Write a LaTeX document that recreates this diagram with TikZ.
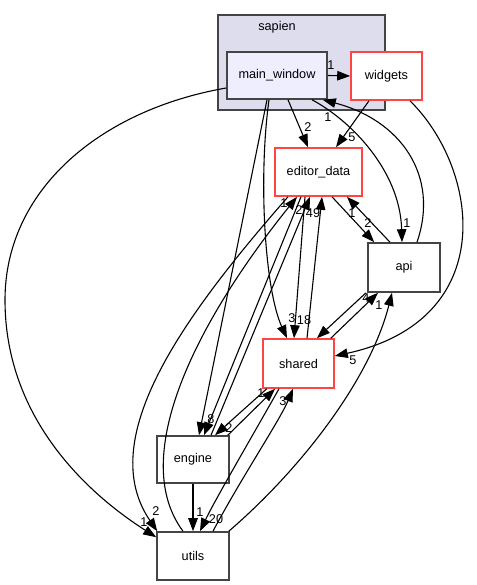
\documentclass[tikz,border=0pt]{standalone}
\usepackage{fontspec}
\setmainfont{Liberation Sans}
\usetikzlibrary{arrows.meta}
\definecolor{clusterfill}{HTML}{DDDDEE}
\definecolor{mwfill}{HTML}{EEEEFF}
\definecolor{dborder}{HTML}{444444}
\definecolor{rborder}{HTML}{FF4444}

\begin{document}
\begin{tikzpicture}[x=1pt, y=-1pt,
	txt/.style={font=\fontsize{12.7}{14}\selectfont},
	dir/.style={txt, draw=dborder, line width=1.6pt, inner sep=0pt, fill=white, minimum width=72pt, minimum height=48pt},
	reddir/.style={dir, draw=rborder},
	lbl/.style={txt, inner sep=0pt},
	dep/.style={black, line width=1.1pt, -{Triangle[length=13pt, width=9.5pt]}}]
	\useasboundingbox (0,0) rectangle (476,585);

	% cluster and directories
	\node [draw=dborder, line width=1.6pt, fill=clusterfill, minimum width=167pt, minimum height=95pt] at (301.5,62.5) (sapien) {};
	\node [lbl] at (277,27) (sapienlbl) {sapien};
	\node [dir, fill=mwfill, minimum width=100pt, minimum height=47pt] at (277,75.5) (mainwin) {main\_window};
	\node [reddir, minimum width=71pt] at (386.5,76) (widgets) {widgets};
	\node [reddir, minimum width=87pt] at (318.5,172) (ed) {editor\_data};
	\node [dir, minimum height=49pt] at (404,267.5) (api) {api};
	\node [reddir, minimum width=71pt, minimum height=49pt] at (298.5,363.5) (shared) {shared};
	\node [dir, minimum height=47pt] at (193,459.5) (engine) {engine};
	\node [dir] at (193,556) (utils) {utils};

	% dependencies
	\draw [dep] (mainwin.east) -- (widgets.west);
	\draw [dep] ([xshift=11pt]mainwin.south) -- ([xshift=-10.5pt]ed.north);
	\draw [dep] ([xshift=-17.5pt]widgets.south) -- ([xshift=17.5pt]ed.north);
	\draw [dep] ([xshift=35pt]mainwin.south) .. controls (350,120) and (400,170) .. ([xshift=-2pt]api.north);
	\draw [dep] ([xshift=13pt]api.north) .. controls (440,175) and (400,120) .. ([xshift=-5pt]mainwin.south east);
	\draw [dep] ([xshift=-8pt]mainwin.south) .. controls (258,180) and (265,290) .. ([xshift=-11.5pt]shared.north);
	\draw [dep] ([xshift=-10pt]mainwin.south) -- ([xshift=6pt]engine.north);
	\draw [dep] ([yshift=-12.5pt]mainwin.west) .. controls (100,110) and (5,190) .. (5,300) .. controls (5,420) and (90,495) .. ([yshift=-6pt]utils.north west);
	\draw [dep] ([xshift=23.5pt]widgets.south) .. controls (480,170) and (500,320) .. ([yshift=7.5pt]shared.east);
	\draw [dep] ([xshift=13.5pt]ed.south) -- ([xshift=7pt]api.north west);
	\draw [dep] ([xshift=-14pt]api.north) -- ([xshift=28.5pt]ed.south);
	\draw [dep] ([xshift=-13.5pt]ed.south) -- ([xshift=-4.5pt]shared.north);
	\draw [dep] ([xshift=8.5pt]shared.north) -- ([xshift=3.5pt]ed.south);
	\draw [dep] ([xshift=-30.5pt]ed.south) .. controls (180,320) and (95,440) .. ([xshift=1pt]utils.north west);
	\draw [dep] ([xshift=-10pt]utils.north) .. controls (130,460) and (190,330) .. ([xshift=-21.5pt]ed.south);
	\draw [dep] ([xshift=-17.5pt]ed.south) -- ([xshift=11pt]engine.north);
	\draw [dep] ([xshift=18pt]engine.north) -- ([xshift=-8.5pt]ed.south);
	\draw [dep] ([xshift=4.5pt]shared.south west) -- ([xshift=22pt]engine.north);
	\draw [dep] ([xshift=-2pt]engine.north east) -- ([xshift=-23.5pt]shared.south);
	\draw [dep] ([xshift=-19.5pt]shared.south) .. controls (250,440) and (215,500) .. ([xshift=7pt]utils.north);
	\draw [dep] ([xshift=20pt]utils.north) .. controls (240,480) and (280,420) .. ([xshift=-5.5pt]shared.south);
	\draw [dep] (engine) -- (utils);
	\draw [dep] ([xshift=-1pt]utils.north east) .. controls (300,470) and (370,380) .. ([xshift=-12pt]api.south);
	\draw [dep] ([xshift=-4pt]shared.north east) -- ([xshift=-26pt]api.south);
	\draw [dep] ([xshift=-38pt]api.south) -- ([xshift=18.5pt]shared.north);

	% counts
	\node [lbl] at (331,65) (lmwwid) {1};
	\node [lbl] at (308,127) (lmwed) {2};
	\node [lbl] at (352,137) (lwided) {5};
	\node [lbl] at (407,223) (lmwapi) {1};
	\node [lbl] at (328,117) (lapimw) {1};
	\node [lbl] at (292,318) (lmwsh) {3};
	\node [lbl] at (304,320) (ledsh) {18};
	\node [lbl] at (211,419) (lmweng) {8};
	\node [lbl] at (144,522) (lmwut) {1};
	\node [lbl] at (353,360) (lwidsh) {5};
	\node [lbl] at (368,223) (ledapi) {2};
	\node [lbl] at (352,213) (lapied) {1};
	\node [lbl] at (313,213) (lshed) {49};
	\node [lbl] at (156,511) (ledut) {2};
	\node [lbl] at (284,203) (luted) {1};
	\node [lbl] at (299,210) (lenged) {2};
	\node [lbl] at (229,428) (lsheng) {2};
	\node [lbl] at (261,393) (lengsh) {1};
	\node [lbl] at (216,519) (lshut) {20};
	\node [lbl] at (283,401) (lutsh) {3};
	\node [lbl] at (200,512) (lengut) {1};
	\node [lbl] at (379,305) (lutapi) {1};
	\node [lbl] at (366,298) (lshapi) {4};
\end{tikzpicture}
\end{document}
